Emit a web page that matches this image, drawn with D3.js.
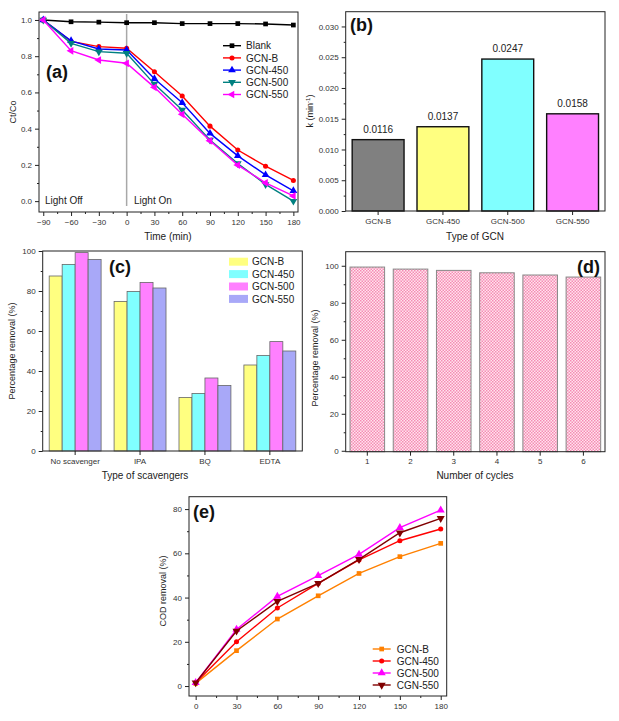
<!DOCTYPE html>
<html><head><meta charset="utf-8">
<script src="https://cdn.jsdelivr.net/npm/d3@7"></script>
<style>body{margin:0;background:#fff} svg{display:block} text{font-family:"Liberation Sans",Arial,sans-serif}</style>
</head><body><svg id="c" width="619" height="721"></svg>
<script>
// ---------- DATA ----------
// (a) Ct/Co vs time
const timeA = [-90,-60,-30,0,30,60,90,120,150,180];
const blankA = [1.0,0.99,0.988,0.985,0.985,0.98,0.98,0.98,0.978,0.972];
const gcnBA = [1.0,0.882,0.853,0.844,0.714,0.580,0.414,0.282,0.193,0.114];
const gcn450A = [1.0,0.885,0.840,0.834,0.676,0.543,0.374,0.250,0.145,0.057];
const gcn500A = [1.0,0.871,0.825,0.816,0.646,0.503,0.337,0.208,0.092,0.0];
const gcn550A = [1.0,0.830,0.779,0.761,0.628,0.479,0.333,0.199,0.101,0.029];
const namesA = ["Blank","GCN-B","GCN-450","GCN-500","GCN-550"];
const xTicksA = [-90,-60,-30,0,30,60,90,120,150,180];
const yTicksA = [0,0.2,0.4,0.6,0.8,1.0];
// (b) rate constants
const catsB = ["GCN-B","GCN-450","GCN-500","GCN-550"];
const kValues = [0.0116,0.0137,0.0247,0.0158];
const yTicksB = [0,0.005,0.010,0.015,0.020,0.025,0.030];
// (c) scavengers
const scavengers = ["No scavenger","IPA","BQ","EDTA"];
const namesC = ["GCN-B","GCN-450","GCN-500","GCN-550"];
const scavGCNB = [87.5,74.8,26.8,43.0];
const scavGCN450 = [93.3,79.8,28.8,47.8];
const scavGCN500 = [99.2,84.3,36.5,54.7];
const scavGCN550 = [95.8,81.5,32.8,50.0];
const yTicksC = [0,20,40,60,80,100];
// (d) cycles
const cycles = ["1","2","3","4","5","6"];
const cycleRemoval = [99.3,98.2,97.5,96.2,95.0,93.9];
const yTicksD = [0,20,40,60,80,100];
// (e) COD removal
const timeE = [0,30,60,90,120,150,180];
const codGCNB = [1.2,16.0,30.3,40.8,50.9,58.5,64.5];
const codGCN450 = [1.5,20.0,35.3,46.4,57.0,65.7,71.0];
const codGCN500 = [1.5,25.6,40.5,49.9,59.5,71.6,79.5];
const codCGN550 = [1.5,24.9,38.3,46.4,57.3,69.3,75.8];
const namesE = ["GCN-B","GCN-450","GCN-500","CGN-550"];
const xTicksE = [0,30,60,90,120,150,180];
const yTicksE = [0,20,40,60,80];

// ---------- HELPERS ----------
const svg = d3.select("#c");
const FONT = "Liberation Sans, Arial, sans-serif";
const AX = "#222", TXT = "#333";

function styleAxis(sel){
  sel.select(".domain").remove();
  sel.selectAll(".tick line").attr("stroke",AX).attr("stroke-width",1);
  sel.selectAll("text").attr("font-size",8).attr("fill",TXT).attr("font-family",FONT);
}
function bottomAxis(g, x, box, ticks, fmt, minors){
  const a = d3.axisBottom(x).tickSizeInner(4).tickSizeOuter(0).tickPadding(3);
  if (ticks) a.tickValues(ticks);
  if (fmt) a.tickFormat(fmt);
  g.append("g").attr("transform",`translate(0,${box.B})`).call(a).call(styleAxis);
  if (minors) g.append("g").attr("transform",`translate(0,${box.B})`)
    .call(d3.axisBottom(x).tickValues(minors).tickFormat("").tickSizeInner(2).tickSizeOuter(0)).call(styleAxis);
}
function leftAxis(g, y, box, ticks, fmt, minors){
  const a = d3.axisLeft(y).tickSizeInner(4).tickSizeOuter(0).tickPadding(3).tickValues(ticks);
  if (fmt) a.tickFormat(fmt);
  g.append("g").attr("transform",`translate(${box.L},0)`).call(a).call(styleAxis);
  if (minors) g.append("g").attr("transform",`translate(${box.L},0)`)
    .call(d3.axisLeft(y).tickValues(minors).tickFormat("").tickSizeInner(2).tickSizeOuter(0)).call(styleAxis);
}
function frame(g, box){
  g.append("rect").attr("x",box.L).attr("y",box.T).attr("width",box.R-box.L).attr("height",box.B-box.T)
   .attr("fill","none").attr("stroke",AX).attr("stroke-width",1);
}
function label(g, txt, x, y, opts={}){
  const t = g.append("text").attr("x",x).attr("y",y).text(txt)
    .attr("font-size",opts.size||10).attr("fill",opts.fill||"#222").attr("font-family",FONT)
    .attr("text-anchor",opts.anchor||"start");
  if (opts.bold) t.attr("font-weight","bold");
  if (opts.rot) t.attr("transform",`rotate(-90,${x},${y})`);
  return t;
}
function symbolPath(kind, size){
  const map = {square:d3.symbolSquare, circle:d3.symbolCircle, up:d3.symbolTriangle, down:d3.symbolTriangle, left:d3.symbolTriangle};
  return d3.symbol().type(map[kind]).size(size)();
}
function symRot(kind){ return kind==="down"?180:(kind==="left"?-90:0); }
function minorsBetween(ticks){ const m=[]; for(let i=0;i<ticks.length-1;i++) m.push((ticks[i]+ticks[i+1])/2); return m; }

// ---------- PANEL (a) ----------
(function(){
  const box = {L:39,T:12,R:298,B:212};
  const g = svg.append("g");
  const x = d3.scaleLinear().domain([-94.6,185]).range([box.L,box.R]);
  const y = d3.scaleLinear().domain([-0.06,1.044]).range([box.B,box.T]);
  bottomAxis(g,x,box,xTicksA,d3.format("d"),minorsBetween(xTicksA));
  leftAxis(g,y,box,yTicksA,d3.format(".1f"),minorsBetween(yTicksA));
  g.append("line").attr("x1",x(0)).attr("x2",x(0)).attr("y1",box.T+2).attr("y2",box.B-6)
   .attr("stroke","#a8a8a8").attr("stroke-width",1.5);
  const series = [
    {name:namesA[0], v:blankA, c:"#000000", s:"square"},
    {name:namesA[1], v:gcnBA, c:"#ff0000", s:"circle"},
    {name:namesA[2], v:gcn450A, c:"#0000ff", s:"up"},
    {name:namesA[3], v:gcn500A, c:"#008080", s:"down"},
    {name:namesA[4], v:gcn550A, c:"#ff00ff", s:"left"}
  ];
  const line = d3.line().x((d,i)=>x(timeA[i])).y(d=>y(d));
  series.forEach(s=>{
    g.append("path").datum(s.v).attr("d",line).attr("fill","none").attr("stroke",s.c).attr("stroke-width",1.4);
    g.selectAll(null).data(s.v).enter().append("path")
      .attr("d",symbolPath(s.s, s.s==="circle"?20:(s.s==="square"?22:26)))
      .attr("transform",(d,i)=>`translate(${x(timeA[i])},${y(d)}) rotate(${symRot(s.s)})`)
      .attr("fill",s.c);
  });
  series.forEach((s,i)=>{
    const ly = 45.7 + i*12.2;
    g.append("line").attr("x1",223).attr("x2",241).attr("y1",ly).attr("y2",ly).attr("stroke",s.c).attr("stroke-width",1.4);
    g.append("path").attr("d",symbolPath(s.s, s.s==="circle"?20:(s.s==="square"?22:26)))
      .attr("transform",`translate(232,${ly}) rotate(${symRot(s.s)})`).attr("fill",s.c);
    label(g,s.name,246,ly+3.6,{size:10});
  });
  frame(g,box);
  label(g,"(a)",46,78,{size:18,bold:true,fill:"#111"});
  label(g,"Light Off",45,204,{size:10});
  label(g,"Light On",134,204,{size:10});
  label(g,"Ct/Co",16,112,{size:9,anchor:"middle",rot:true});
  label(g,"Time (min)",168,240,{size:10,anchor:"middle"});
})();

// ---------- PANEL (b) ----------
(function(){
  const box = {L:345.7,T:11.7,R:605,B:211};
  const g = svg.append("g");
  const x = d3.scaleBand().domain(catsB).range([box.L,box.R]).paddingInner(0.2).paddingOuter(0.1);
  const y = d3.scaleLinear().domain([0,0.0324]).range([box.B,box.T]);
  const colors = ["#808080","#ffff80","#80ffff","#ff80ff"];
  g.selectAll(null).data(kValues).enter().append("rect")
    .attr("x",(d,i)=>x(catsB[i])).attr("width",x.bandwidth())
    .attr("y",d=>y(d)).attr("height",d=>box.B-y(d))
    .attr("fill",(d,i)=>colors[i]).attr("stroke","#111").attr("stroke-width",1.4);
  g.selectAll(null).data(kValues).enter().append("text")
    .attr("x",(d,i)=>x(catsB[i])+x.bandwidth()/2).attr("y",d=>y(d)-7)
    .attr("text-anchor","middle").attr("font-size",10).attr("fill","#222").attr("font-family",FONT)
    .text(d=>d.toFixed(4));
  bottomAxis(g,x,box,null,null,null);
  leftAxis(g,y,box,yTicksB,d3.format(".3f"),minorsBetween(yTicksB));
  frame(g,box);
  label(g,"(b)",350,31,{size:18,bold:true,fill:"#111"});
  const t = label(g,"k (min",313,111,{size:9,anchor:"middle",rot:true});
  t.append("tspan").attr("dy",-3).attr("font-size",6).text("-1");
  t.append("tspan").attr("dy",3).text(")");
  label(g,"Type of GCN",475,240,{size:10,anchor:"middle"});
})();

// ---------- PANEL (c) ----------
(function(){
  const box = {L:42.7,T:251,R:302.3,B:451};
  const g = svg.append("g");
  const x0 = d3.scaleBand().domain(scavengers).range([box.L,box.R]).paddingInner(0.2).paddingOuter(0.1);
  const x1 = d3.scaleBand().domain(namesC).range([0,x0.bandwidth()]);
  const y = d3.scaleLinear().domain([0,100]).range([box.B,box.T]);
  const colors = ["#ffff80","#80ffff","#ff80ff","#a8a8f8"];
  const vals = [scavGCNB,scavGCN450,scavGCN500,scavGCN550];
  vals.forEach((arr,si)=>{
    g.selectAll(null).data(arr).enter().append("rect")
      .attr("x",(d,i)=>x0(scavengers[i])+x1(namesC[si])).attr("width",x1.bandwidth())
      .attr("y",d=>y(d)).attr("height",d=>box.B-y(d))
      .attr("fill",colors[si]).attr("stroke","#666").attr("stroke-width",0.8);
  });
  bottomAxis(g,x0,box,null,null,null);
  leftAxis(g,y,box,yTicksC,d3.format("d"),minorsBetween(yTicksC));
  namesC.forEach((n,i)=>{
    const ly = 261.7 + i*12.4;
    g.append("rect").attr("x",229).attr("y",ly-4).attr("width",19).attr("height",8).attr("fill",colors[i]);
    label(g,n,252,ly+3.6,{size:10});
  });
  frame(g,box);
  label(g,"(c)",109,273,{size:18,bold:true,fill:"#111"});
  label(g,"Percentage removal (%)",15,351,{size:9,anchor:"middle",rot:true});
  label(g,"Type of scavengers",145,479,{size:10,anchor:"middle"});
})();

// ---------- PANEL (d) ----------
(function(){
  const box = {L:345.7,T:251.7,R:605,B:451.7};
  const g = svg.append("g");
  const defs = svg.append("defs");
  const p = defs.append("pattern").attr("id","pinkChk").attr("patternUnits","userSpaceOnUse").attr("width",3).attr("height",3);
  p.append("rect").attr("width",3).attr("height",3).attr("fill","#ffe4ee");
  p.append("rect").attr("width",1.5).attr("height",1.5).attr("fill","#f58cb4");
  p.append("rect").attr("x",1.5).attr("y",1.5).attr("width",1.5).attr("height",1.5).attr("fill","#f58cb4");
  const x = d3.scaleBand().domain(cycles).range([box.L,box.R]).paddingInner(0.2).paddingOuter(0.1);
  const y = d3.scaleLinear().domain([-0.5,107.6]).range([box.B,box.T]);
  g.selectAll(null).data(cycleRemoval).enter().append("rect")
    .attr("x",(d,i)=>x(cycles[i])).attr("width",x.bandwidth())
    .attr("y",d=>y(d)).attr("height",d=>box.B-y(d))
    .attr("fill","url(#pinkChk)").attr("stroke","#888").attr("stroke-width",1);
  bottomAxis(g,x,box,null,null,null);
  leftAxis(g,y,box,yTicksD,d3.format("d"),minorsBetween(yTicksD));
  frame(g,box);
  label(g,"(d)",577,273,{size:18,bold:true,fill:"#111"});
  label(g,"Percentage removal (%)",318,358,{size:9,anchor:"middle",rot:true});
  label(g,"Number of cycles",475,479,{size:10,anchor:"middle"});
})();

// ---------- PANEL (e) ----------
(function(){
  const box = {L:189,T:496.7,R:446.7,B:696};
  const g = svg.append("g");
  const x = d3.scaleLinear().domain([-4.9,184.4]).range([box.L,box.R]);
  const y = d3.scaleLinear().domain([-4.5,85.6]).range([box.B,box.T]);
  bottomAxis(g,x,box,xTicksE,d3.format("d"),minorsBetween(xTicksE));
  leftAxis(g,y,box,yTicksE,d3.format("d"),minorsBetween(yTicksE));
  const series = [
    {name:namesE[0], v:codGCNB, c:"#ff8000", s:"square"},
    {name:namesE[1], v:codGCN450, c:"#ff0000", s:"circle"},
    {name:namesE[2], v:codGCN500, c:"#ff00ff", s:"up"},
    {name:namesE[3], v:codCGN550, c:"#800000", s:"down"}
  ];
  const line = d3.line().x((d,i)=>x(timeE[i])).y(d=>y(d));
  series.forEach(s=>{
    g.append("path").datum(s.v).attr("d",line).attr("fill","none").attr("stroke",s.c).attr("stroke-width",1.4);
    g.selectAll(null).data(s.v).enter().append("path")
      .attr("d",symbolPath(s.s, s.s==="circle"?20:(s.s==="square"?22:28)))
      .attr("transform",(d,i)=>`translate(${x(timeE[i])},${y(d)}) rotate(${symRot(s.s)})`)
      .attr("fill",s.c);
  });
  series.forEach((s,i)=>{
    const ly = 649 + i*12;
    g.append("line").attr("x1",372.7).attr("x2",390.7).attr("y1",ly).attr("y2",ly).attr("stroke",s.c).attr("stroke-width",1.4);
    g.append("path").attr("d",symbolPath(s.s, s.s==="circle"?20:(s.s==="square"?22:28)))
      .attr("transform",`translate(381.7,${ly}) rotate(${symRot(s.s)})`).attr("fill",s.c);
    label(g,s.name,396.7,ly+3.6,{size:10});
  });
  frame(g,box);
  label(g,"(e)",193,518,{size:18,bold:true,fill:"#111"});
  label(g,"COD removal (%)",166,591,{size:9,anchor:"middle",rot:true});
})();
</script></body></html>
